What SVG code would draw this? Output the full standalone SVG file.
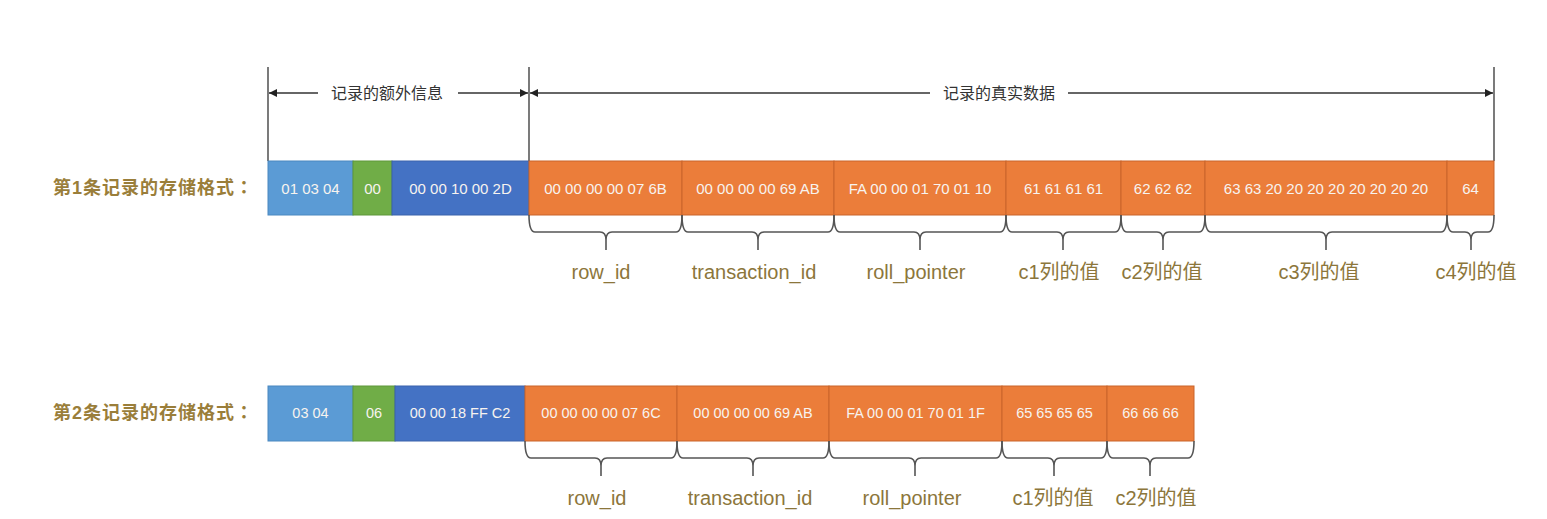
<svg xmlns="http://www.w3.org/2000/svg" width="1547" height="519" viewBox="0 0 1547 519">
<style>
.bg{fill:#ffffff}
.lb{fill:#5B9BD5;stroke:#4a88c0;stroke-width:1}
.gr{fill:#70AD47;stroke:#5e973a;stroke-width:1}
.db{fill:#4472C4;stroke:#3a62ab;stroke-width:1}
.or{fill:#EB7D3A;stroke:#c9652b;stroke-width:1}
.bt{font-family:"Liberation Sans",Arial,sans-serif;font-size:15px;fill:#f7f3ef;text-anchor:middle;dominant-baseline:central}
.bt2{font-family:"Liberation Sans",Arial,sans-serif;font-size:14.5px;fill:#f7f3ef;text-anchor:middle;dominant-baseline:central}
.rl{font-family:"Liberation Sans","Noto Sans CJK JP",sans-serif;font-size:18px;font-weight:bold;fill:#9a7e3a;text-anchor:end;dominant-baseline:central;letter-spacing:1px}
.fl{font-family:"Liberation Sans","Noto Sans CJK SC",sans-serif;font-size:20px;fill:#8c763b;text-anchor:middle;dominant-baseline:central}
.hl{font-family:"Liberation Sans","Noto Sans CJK SC",sans-serif;font-size:16px;fill:#333333;text-anchor:middle;dominant-baseline:central}
.ln{stroke:#333333;stroke-width:1.3;fill:none}
.br{stroke:#555555;stroke-width:1.6;fill:none}
</style>
<defs>
<marker id="ah" viewBox="0 0 10 10" refX="10" refY="5" markerWidth="8" markerHeight="8" markerUnits="userSpaceOnUse" orient="auto-start-reverse">
<path d="M0,0 L10,5 L0,10 z" fill="#222222"/>
</marker>
</defs>
<rect class="bg" x="0" y="0" width="1547" height="519"/>

<g id="connectors">
<line class="ln" x1="268" y1="67" x2="268" y2="161"/>
<line class="ln" x1="529" y1="67" x2="529" y2="161"/>
<line class="ln" x1="1494" y1="67" x2="1494" y2="161"/>
<line class="ln" x1="269" y1="93" x2="318" y2="93" marker-start="url(#ah)"/>
<line class="ln" x1="458" y1="93" x2="528" y2="93" marker-end="url(#ah)"/>
<line class="ln" x1="530" y1="93" x2="930" y2="93" marker-start="url(#ah)"/>
<line class="ln" x1="1068" y1="93" x2="1493" y2="93" marker-end="url(#ah)"/>
</g>

<g id="header-extra"><text class="hl" x="387" y="93">记录的额外信息</text></g>
<g id="header-real"><text class="hl" x="999" y="93">记录的真实数据</text></g>

<g id="row1-label"><text class="rl" x="254" y="188">第1条记录的存储格式：</text></g>
<g id="row1">
<rect class="lb" x="268" y="161" width="85" height="54"/><text class="bt" x="310.5" y="188">01 03 04</text>
<rect class="gr" x="353" y="161" width="39" height="54"/><text class="bt" x="372.5" y="188">00</text>
<rect class="db" x="392" y="161" width="137" height="54"/><text class="bt" x="460.5" y="188">00 00 10 00 2D</text>
<rect class="or" x="529" y="161" width="153" height="54"/><text class="bt" x="605.5" y="188">00 00 00 00 07 6B</text>
<rect class="or" x="682" y="161" width="152" height="54"/><text class="bt" x="758" y="188">00 00 00 00 69 AB</text>
<rect class="or" x="834" y="161" width="172" height="54"/><text class="bt" x="920" y="188">FA 00 00 01 70 01 10</text>
<rect class="or" x="1006" y="161" width="115" height="54"/><text class="bt" x="1063.5" y="188">61 61 61 61</text>
<rect class="or" x="1121" y="161" width="84" height="54"/><text class="bt" x="1163" y="188">62 62 62</text>
<rect class="or" x="1205" y="161" width="242" height="54"/><text class="bt" x="1326" y="188">63 63 20 20 20 20 20 20 20 20</text>
<rect class="or" x="1447" y="161" width="47" height="54"/><text class="bt" x="1470.5" y="188">64</text>
</g>

<g id="row1-braces">
<path class="br" d="M529,215 Q529,232 535,232 L600,232 Q606,232 606,240 L606,250 M606,240 Q606,232 612,232 L676,232 Q682,232 682,215"/>
<path class="br" d="M682,215 Q682,232 688,232 L752,232 Q758,232 758,240 L758,250 M758,240 Q758,232 764,232 L828,232 Q834,232 834,215"/>
<path class="br" d="M834,215 Q834,232 840,232 L914,232 Q920,232 920,240 L920,250 M920,240 Q920,232 926,232 L1000,232 Q1006,232 1006,215"/>
<path class="br" d="M1006,215 Q1006,232 1012,232 L1057,232 Q1063,232 1063,240 L1063,250 M1063,240 Q1063,232 1069,232 L1115,232 Q1121,232 1121,215"/>
<path class="br" d="M1121,215 Q1121,232 1127,232 L1157,232 Q1163,232 1163,240 L1163,250 M1163,240 Q1163,232 1169,232 L1199,232 Q1205,232 1205,215"/>
<path class="br" d="M1205,215 Q1205,232 1211,232 L1320,232 Q1326,232 1326,240 L1326,250 M1326,240 Q1326,232 1332,232 L1441,232 Q1447,232 1447,215"/>
<path class="br" d="M1447,215 Q1447,232 1453,232 L1465,232 Q1471,232 1471,240 L1471,250 M1471,240 Q1471,232 1477,232 L1488,232 Q1494,232 1494,215"/>
</g>
<g id="row1-fields">
<text class="fl" x="601" y="272">row_id</text>
<text class="fl" x="754" y="272">transaction_id</text>
<text class="fl" x="916" y="272">roll_pointer</text>
<text class="fl" x="1059" y="272">c1列的值</text>
<text class="fl" x="1162" y="272">c2列的值</text>
<text class="fl" x="1319" y="272">c3列的值</text>
<text class="fl" x="1476" y="272">c4列的值</text>
</g>

<g id="row2-label"><text class="rl" x="254" y="413">第2条记录的存储格式：</text></g>
<g id="row2">
<rect class="lb" x="268" y="386" width="85" height="55"/><text class="bt2" x="310.5" y="413">03 04</text>
<rect class="gr" x="353" y="386" width="42" height="55"/><text class="bt2" x="374" y="413">06</text>
<rect class="db" x="395" y="386" width="130" height="55"/><text class="bt2" x="460" y="413">00 00 18 FF C2</text>
<rect class="or" x="525" y="386" width="152" height="55"/><text class="bt2" x="601" y="413">00 00 00 00 07 6C</text>
<rect class="or" x="677" y="386" width="152" height="55"/><text class="bt2" x="753" y="413">00 00 00 00 69 AB</text>
<rect class="or" x="829" y="386" width="173" height="55"/><text class="bt2" x="915.5" y="413">FA 00 00 01 70 01 1F</text>
<rect class="or" x="1002" y="386" width="105" height="55"/><text class="bt2" x="1054.5" y="413">65 65 65 65</text>
<rect class="or" x="1107" y="386" width="87" height="55"/><text class="bt2" x="1150.5" y="413">66 66 66</text>
</g>
<g id="row2-braces">
<path class="br" d="M525,441 Q525,458 531,458 L595,458 Q601,458 601,466 L601,476 M601,466 Q601,458 607,458 L671,458 Q677,458 677,441"/>
<path class="br" d="M677,441 Q677,458 683,458 L747,458 Q753,458 753,466 L753,476 M753,466 Q753,458 759,458 L823,458 Q829,458 829,441"/>
<path class="br" d="M829,441 Q829,458 835,458 L909,458 Q915,458 915,466 L915,476 M915,466 Q915,458 921,458 L996,458 Q1002,458 1002,441"/>
<path class="br" d="M1002,441 Q1002,458 1008,458 L1048,458 Q1054,458 1054,466 L1054,476 M1054,466 Q1054,458 1060,458 L1101,458 Q1107,458 1107,441"/>
<path class="br" d="M1107,441 Q1107,458 1113,458 L1144,458 Q1150,458 1150,466 L1150,476 M1150,466 Q1150,458 1156,458 L1188,458 Q1194,458 1194,441"/>
</g>
<g id="row2-fields">
<text class="fl" x="597" y="498">row_id</text>
<text class="fl" x="750" y="498">transaction_id</text>
<text class="fl" x="912" y="498">roll_pointer</text>
<text class="fl" x="1053" y="498">c1列的值</text>
<text class="fl" x="1156" y="498">c2列的值</text>
</g>
</svg>
